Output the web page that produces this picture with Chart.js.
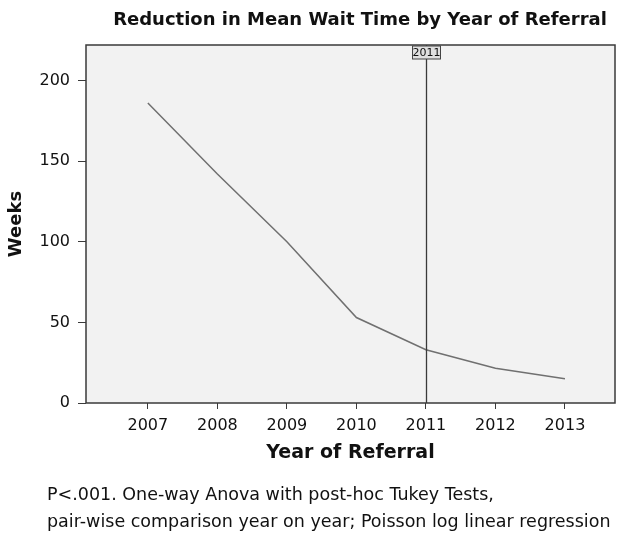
<!DOCTYPE html>
<html>
<head>
<meta charset="utf-8">
<script src="https://cdn.jsdelivr.net/npm/chart.js@4.4.1/dist/chart.umd.min.js"></script>
<style>
    body { margin: 0; background: #fff; }
    #wrap { position: relative; width: 625px; height: 535px; }
    #note {
        position: absolute; left: 47px; top: 481px;
        font-family: "DejaVu Sans", sans-serif; font-size: 17.5px; line-height: 27px; color: #111;
        white-space: nowrap;
    }
</style>
</head>
<body>
<div id="wrap">
    <canvas id="graph" width="625" height="535"></canvas>
    <div id="note">P&lt;.001. One-way Anova with post-hoc Tukey Tests,<br>pair-wise comparison year on year; Poisson log linear regression</div>
</div>
<script>
const years = [2007, 2008, 2009, 2010, 2011, 2012, 2013];
const meanWaitWeeks = [186, 142, 100, 53, 33, 21.5, 15];
const yTicks = [0, 50, 100, 150, 200];
const markerYear = 2011;
const chartTitle = 'Reduction in Mean Wait Time by Year of Referral';

const FONT = '"DejaVu Sans", sans-serif';

const plotFrame = {
    id: 'plotFrame',
    beforeDraw(chart) {
        const { ctx, chartArea: a } = chart;
        ctx.save();
        ctx.fillStyle = '#f2f2f2';
        ctx.fillRect(a.left, a.top, a.right - a.left, a.bottom - a.top);

        // title, centred a bit right of the plot like the original
        ctx.fillStyle = '#111';
        ctx.font = 'bold 18px ' + FONT;
        ctx.textAlign = 'center';
        ctx.textBaseline = 'middle';
        ctx.fillText(chartTitle, 360, 20);
        ctx.restore();
    },
    afterDatasetsDraw(chart) {
        const { ctx, chartArea: a } = chart;
        const x = Math.round(chart.scales.x.getPixelForValue(markerYear)) + 0.5;
        ctx.save();
        ctx.strokeStyle = '#3a3a3a';
        ctx.lineWidth = 1.5;
        ctx.strokeRect(a.left, a.top, a.right - a.left, a.bottom - a.top);

        // reference line
        ctx.lineWidth = 1.3;
        ctx.beginPath();
        ctx.moveTo(x, a.top);
        ctx.lineTo(x, a.bottom);
        ctx.stroke();

        // label box
        ctx.font = '11px ' + FONT;
        const label = String(markerYear);
        const w = 28;
        const h = 13;
        const by = a.top + 1;
        ctx.fillStyle = '#e0e0e0';
        ctx.fillRect(x - w / 2, by, w, h);
        ctx.lineWidth = 1;
        ctx.strokeStyle = '#444';
        ctx.strokeRect(x - w / 2, by, w, h);
        ctx.fillStyle = '#111';
        ctx.textAlign = 'center';
        ctx.textBaseline = 'middle';
        ctx.fillText(label, x, by + h / 2 + 0.5);
        ctx.restore();
    }
};

new Chart(document.getElementById('graph'), {
    type: 'line',
    data: {
        datasets: [{
            label: 'Mean wait',
            data: years.map((yr, i) => ({ x: yr, y: meanWaitWeeks[i] })),
            borderColor: '#707070',
            borderWidth: 1.5,
            pointRadius: 0,
            tension: 0,
            fill: false
        }]
    },
    options: {
        responsive: false,
        animation: false,
        layout: { padding: { left: 0, right: 10, top: 45, bottom: 62 } },
        plugins: {
            legend: { display: false },
            tooltip: { enabled: false },
            title: { display: false }
        },
        scales: {
            x: {
                type: 'linear',
                min: 2006.11,
                max: 2013.72,
                afterBuildTicks: s => { s.ticks = years.map(v => ({ value: v })); },
                afterFit: s => { s.height = 70; },
                grid: { drawOnChartArea: false, drawTicks: true, tickLength: 6, color: '#3a3a3a' },
                border: { display: false },
                ticks: {
                    color: '#111',
                    font: { family: FONT, size: 16 },
                    padding: 7,
                    maxRotation: 0,
                    callback: v => String(v)
                },
                title: {
                    display: true,
                    text: 'Year of Referral',
                    color: '#111',
                    font: { family: FONT, size: 19, weight: 'bold' },
                    padding: { top: 0, bottom: 9 }
                }
            },
            y: {
                min: 0,
                max: 222,
                afterBuildTicks: s => { s.ticks = yTicks.map(v => ({ value: v })); },
                afterFit: s => { s.width = 86; },
                grid: { drawOnChartArea: false, drawTicks: true, tickLength: 8, color: '#3a3a3a' },
                border: { display: false },
                ticks: {
                    color: '#111',
                    font: { family: FONT, size: 16 },
                    padding: 8
                },
                title: {
                    display: true,
                    text: 'Weeks',
                    color: '#111',
                    font: { family: FONT, size: 18, weight: 'bold' },
                    padding: { top: 6, bottom: 0 }
                }
            }
        }
    },
    plugins: [plotFrame]
});
</script>
</body>
</html>
